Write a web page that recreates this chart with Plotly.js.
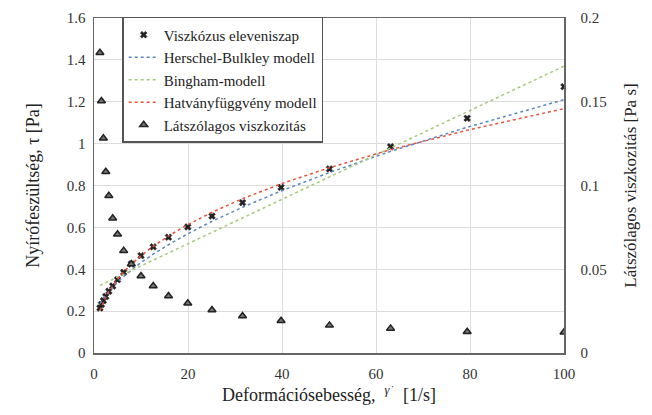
<!DOCTYPE html>
<html>
<head>
<meta charset="utf-8">
<script src="https://cdn.plot.ly/plotly-3.0.1.min.js"></script>
<style>html,body{margin:0;padding:0;background:#fff;}#chart{width:652px;height:415px;}</style>
</head>
<body>
<div id="chart"></div>
<script>
// Shear rate [1/s]
const shearRate = [1.26,1.58,2,2.51,3.16,3.98,5.01,6.31,7.94,10,12.6,15.85,19.95,25.1,31.6,39.8,50.1,63.1,79.4,100];
// Measured shear stress [Pa]
const measuredStress = [0.215,0.232,0.25,0.27,0.295,0.32,0.35,0.385,0.425,0.465,0.507,0.553,0.602,0.654,0.718,0.791,0.879,0.985,1.121,1.272];
// Model curves
const hbModel = [0.236,0.248,0.262,0.277,0.295,0.316,0.340,0.366,0.397,0.432,0.472,0.517,0.569,0.629,0.696,0.774,0.862,0.963,1.078,1.210];
const binghamModel = [0.323,0.327,0.331,0.337,0.343,0.352,0.363,0.377,0.394,0.416,0.444,0.478,0.521,0.576,0.645,0.732,0.841,0.979,1.152,1.370];
const powerModel = [0.203,0.222,0.244,0.267,0.293,0.322,0.352,0.386,0.424,0.465,0.509,0.559,0.613,0.672,0.737,0.808,0.885,0.971,1.064,1.167];
// Apparent viscosity [Pa s]
const apparentViscosity = [0.1793,0.1504,0.1282,0.1082,0.0939,0.0804,0.0709,0.0611,0.0531,0.046,0.040,0.034,0.0297,0.0257,0.0221,0.0193,0.0165,0.0147,0.0127,0.0124];

const xTicks = [0,20,40,60,80,100];
const yTicks = [0,0.2,0.4,0.6,0.8,1,1.2,1.4,1.6];
const y2Ticks = [0,0.05,0.1,0.15,0.2];

const serif = "Liberation Serif";

const traces = [
  {x: shearRate, y: measuredStress, name: 'Viszkózus eleveniszap', type: 'scatter', mode: 'markers',
   marker: {symbol: 'x', size: 6, color: '#222', line: {width: 0.5, color: '#222'}}},
  {x: shearRate, y: hbModel, name: 'Herschel-Bulkley modell', type: 'scatter', mode: 'lines',
   line: {color: '#5a86c4', width: 1.5, dash: 'dot'}},
  {x: shearRate, y: binghamModel, name: 'Bingham-modell', type: 'scatter', mode: 'lines',
   line: {color: '#a6c97a', width: 1.5, dash: 'dot'}},
  {x: shearRate, y: powerModel, name: 'Hatványfüggvény modell', type: 'scatter', mode: 'lines',
   line: {color: '#e5533f', width: 1.5, dash: 'dot'}},
  {x: shearRate, y: apparentViscosity, name: 'Látszólagos viszkozitás', type: 'scatter', mode: 'markers', yaxis: 'y2',
   marker: {symbol: 'triangle-up', size: 7, color: '#777', line: {width: 1.5, color: '#222'}}}
];

const layout = {
  width: 652, height: 415,
  margin: {l: 93.5, r: 87.5, t: 18, b: 62},
  paper_bgcolor: '#fff', plot_bgcolor: '#fff',
  font: {family: serif, size: 15, color: '#333'},
  showlegend: true,
  legend: {x: 0.06, y: 1.003, xanchor: 'left', yanchor: 'top', bgcolor: '#fff',
           bordercolor: '#555', borderwidth: 1.5, font: {family: serif, size: 15, color: '#222'},
           tracegroupgap: 0, itemwidth: 30},
  xaxis: {range: [0, 100], tickvals: xTicks, ticktext: xTicks.map(String), showgrid: true, gridcolor: '#dcdcdc',
          showline: true, linecolor: '#666', linewidth: 1.5, mirror: true, zeroline: false, ticks: '',
          ticklabelstandoff: 6,
          tickfont: {family: serif, size: 15, color: '#333'},
          title: {text: 'Deformációsebesség,  <i><sup>γ̇</sup></i>   [1/s]', font: {family: serif, size: 18, color: '#222'}, standoff: 8}},
  yaxis: {range: [0, 1.6], tickvals: yTicks, ticktext: yTicks.map(String), showgrid: true, gridcolor: '#dcdcdc',
          showline: true, linecolor: '#666', linewidth: 1.5, zeroline: false, ticks: '',
          ticklabelstandoff: 4,
          tickfont: {family: serif, size: 15, color: '#333'},
          title: {text: 'Nyírófeszültség, τ [Pa]', font: {family: serif, size: 18, color: '#222'}, standoff: 22}},
  yaxis2: {range: [0, 0.2], tickvals: y2Ticks, ticktext: y2Ticks.map(String), overlaying: 'y', side: 'right',
           showgrid: false, showline: true, linecolor: '#666', linewidth: 1.5, zeroline: false, ticks: '',
           ticklabelstandoff: 12,
           tickfont: {family: serif, size: 15, color: '#333'},
           title: {text: 'Látszólagos viszkozitás [Pa s]', font: {family: serif, size: 17, color: '#222'}, standoff: 18}}
};

Plotly.newPlot('chart', traces, layout, {displayModeBar: false, staticPlot: true});
</script>
</body>
</html>
